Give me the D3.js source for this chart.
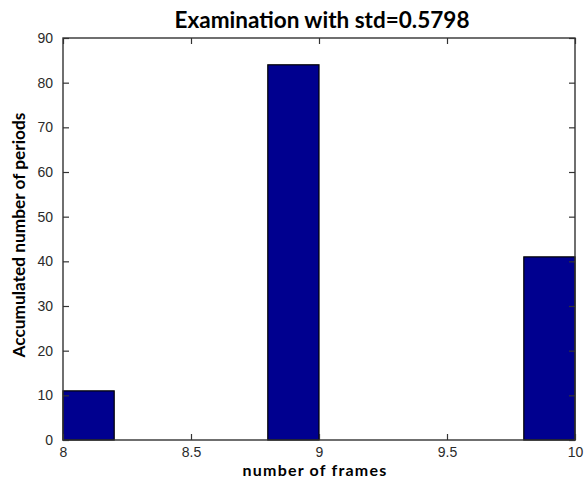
<!DOCTYPE html>
<html><head><meta charset="utf-8">
<script src="https://cdn.jsdelivr.net/npm/d3@7"></script>
<style>body{margin:0;background:#fff}</style>
</head><body>
<svg id="c" width="585" height="480"></svg>
<script>
const binStarts = [8, 8.8, 9.8];
const binEnds = [8.2, 9.0, 10.0];
const counts = [11, 84, 41];
const xTicks = [8, 8.5, 9, 9.5, 10];
const yTicks = [0, 10, 20, 30, 40, 50, 60, 70, 80, 90];
const titleText = "Examination with std=0.5798";
const xLabel = "number of frames";
const yLabel = "Accumulated number of periods";

const L = 63, R = 575, T = 38, B = 440;
const svg = d3.select("#c");
const x = d3.scaleLinear().domain([8, 10]).range([L, R]);
const y = d3.scaleLinear().domain([0, 90]).range([B, T]);

const data = counts.map((c, i) => ({s: binStarts[i], e: binEnds[i], c}));
svg.selectAll("rect.bar").data(data).enter().append("rect")
  .attr("class", "bar")
  .attr("x", d => x(d.s)).attr("width", d => x(d.e) - x(d.s))
  .attr("y", d => y(d.c)).attr("height", d => y(0) - y(d.c))
  .attr("fill", "#00008f").attr("stroke", "#000").attr("stroke-width", 1.2);

const tickStyle = g => {
  g.select(".domain").remove();
  g.selectAll(".tick line").attr("stroke", "#333").attr("stroke-width", 1.2);
};
const fontT = g => g.selectAll("text").attr("font-family", "Liberation Sans, Arial, sans-serif")
  .attr("font-size", 14).attr("fill", "#2a2a2a");

svg.append("g").attr("transform", `translate(0,${B})`)
  .call(d3.axisBottom(x).tickValues(xTicks).tickSizeInner(-6).tickSizeOuter(0).tickPadding(7).tickFormat(d3.format("")))
  .call(tickStyle).call(fontT);
svg.append("g").attr("transform", `translate(0,${T})`)
  .call(d3.axisTop(x).tickValues(xTicks).tickSizeInner(-6).tickSizeOuter(0).tickFormat(""))
  .call(tickStyle);
svg.append("g").attr("transform", `translate(${L},0)`)
  .call(d3.axisLeft(y).tickValues(yTicks).tickSizeInner(-6).tickSizeOuter(0).tickPadding(10))
  .call(tickStyle).call(fontT);
svg.append("g").attr("transform", `translate(${R},0)`)
  .call(d3.axisRight(y).tickValues(yTicks).tickSizeInner(-6).tickSizeOuter(0).tickFormat(""))
  .call(tickStyle);

svg.append("rect").attr("x", L).attr("y", T).attr("width", R - L).attr("height", B - T)
  .attr("fill", "none").attr("stroke", "#333").attr("stroke-width", 1.4);

function fitText(sel, target) {
  const w = sel.node().getComputedTextLength();
  const fs = +sel.attr("font-size");
  sel.attr("font-size", (fs * target / w).toFixed(2));
}
const lab = (t) => svg.append("text").attr("text-anchor", "middle")
  .attr("font-family", "Lato, 'Open Sans', sans-serif").attr("font-weight", "bold")
  .attr("font-size", 16).attr("fill", "#000").text(t);

fitText(lab(titleText).attr("x", 322).attr("y", 28), 295);
lab(xLabel).attr("x", 315).attr("y", 475.5).attr("letter-spacing", 1.2);
fitText(lab(yLabel).attr("transform", "translate(25,235) rotate(-90)"), 245);
</script>
</body></html>
